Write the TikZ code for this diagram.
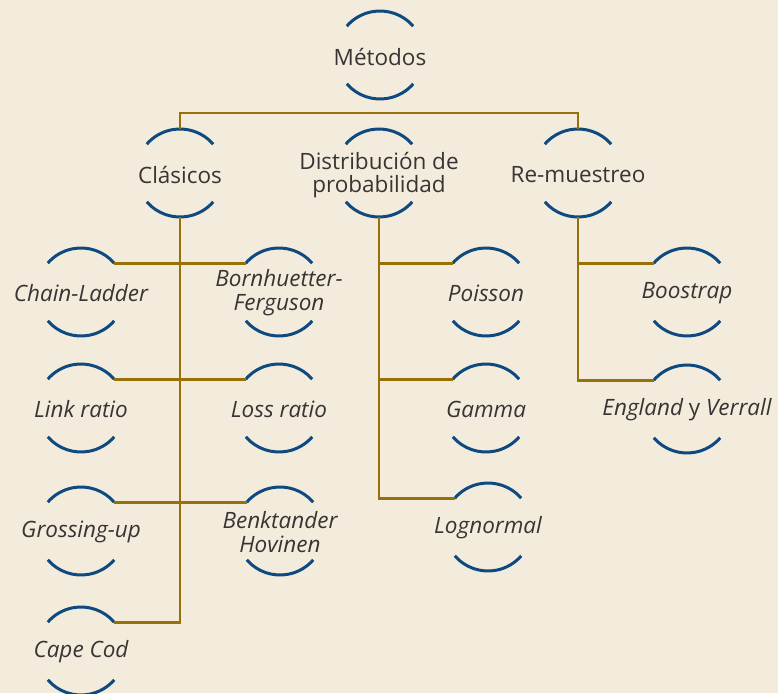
\documentclass[tikz,border=0pt]{standalone}
\usepackage{fontspec}
\setmainfont{Open Sans}
\definecolor{bg}{HTML}{F3ECDC}
\definecolor{arcblue}{HTML}{0E4A80}
\definecolor{gold}{HTML}{987008}
\definecolor{txt}{HTML}{383434}
\tikzset{
  bubarc/.style={draw=arcblue,line width=3pt},
  conn/.style={draw=gold,line width=2.8pt},
  lbl/.style={text=txt,font=\fontsize{22.5}{23.5}\selectfont,align=center,inner sep=0pt,yshift=-2pt},
  leaf/.style={text=txt,font=\fontsize{22.5}{24}\selectfont\itshape,align=center,inner sep=0pt,yshift=-1pt}
}
\newcommand\bub[5]{%
  \coordinate (#1) at (#2,-#3);
  \path (#1) ++(41:44) coordinate (#1-r)
        (#1) ++(139:44) coordinate (#1-l)
        (#1) ++(90:44) coordinate (#1-top)
        (#1) ++(270:44) coordinate (#1-bot)
        (#1) ++(221:44) coordinate (#1-bl);
  \draw[bubarc] (#1-r) arc[start angle=41,end angle=139,radius=44];
  \draw[bubarc] (#1-bl) arc[start angle=221,end angle=319,radius=44];
  \node[#4] (#1-t) at (#2,-#3) {#5};
}
\begin{document}
\begin{tikzpicture}[x=1pt,y=1pt]
\useasboundingbox[fill=bg] (0,0) rectangle (778,-693);
\bub{meto}{380}{55}{lbl}{Métodos}
\bub{clas}{180}{173}{lbl}{Clásicos}
\bub{dist}{379}{173}{lbl}{Distribución de\\probabilidad}
\bub{remu}{578}{173}{lbl}{Re-muestreo}
\bub{chain}{81}{292}{leaf}{Chain-Ladder}
\bub{born}{279}{292}{leaf}{Bornhuetter-\\Ferguson}
\bub{link}{81}{408}{leaf}{Link ratio}
\bub{loss}{279}{408}{leaf}{Loss ratio}
\bub{gross}{81}{531}{leaf}{Grossing-up}
\bub{benk}{280}{531}{leaf}{Benktander\\Hovinen}
\bub{cape}{81}{651}{leaf}{Cape Cod}
\bub{pois}{486}{292}{leaf}{Poisson}
\bub{gamma}{486}{408}{leaf}{Gamma}
\bub{logn}{488}{527}{leaf}{Lognormal}
\bub{boos}{687}{292}{leaf}{Boostrap}
\bub{engl}{687}{409}{leaf}{England {\upshape y} Verrall}
% connectors
\draw[conn] (clas-top) -- ++(0,16) -| (remu-top);
\draw[conn] (clas-bot) |- (cape-r);
\draw[conn] (chain-r) -- (born-l);
\draw[conn] (link-r) -- (loss-l);
\draw[conn] (gross-r) -- (benk-l);
\draw[conn] (dist-bot) |- (logn-l);
\draw[conn] (pois-l) -| (dist-bot);
\draw[conn] (gamma-l) -| (dist-bot);
\draw[conn] (remu-bot) |- (engl-l);
\draw[conn] (boos-l) -| (remu-bot);
\end{tikzpicture}
\end{document}
